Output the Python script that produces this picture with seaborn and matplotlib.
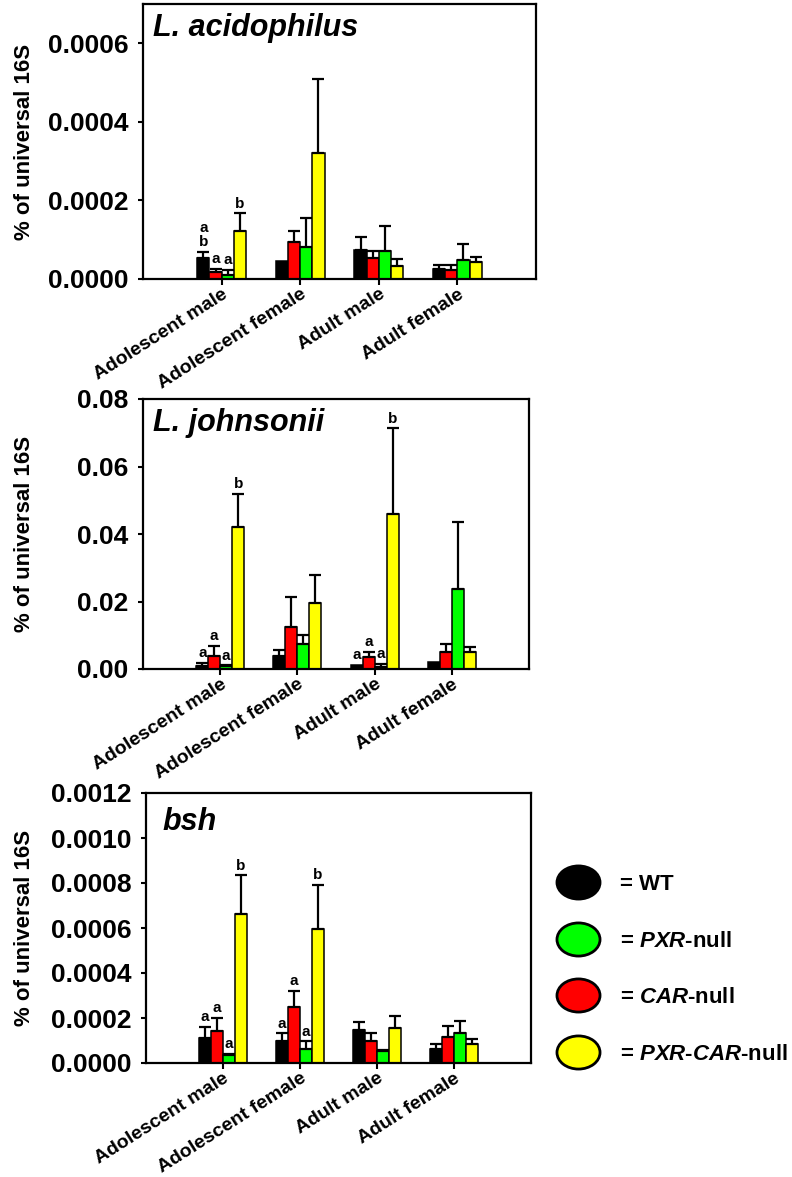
import numpy as np
import pandas as pd
import seaborn as sns
import matplotlib.pyplot as plt
from matplotlib.path import Path
from matplotlib.lines import Line2D
from matplotlib.container import BarContainer
from matplotlib.ticker import FormatStrFormatter, MultipleLocator

## Data, rows = genotype, columns = group
groups = ["Adolescent male", "Adolescent female", "Adult male", "Adult female"]
genotypes = ["WT", "CAR-null", "PXR-null", "PXR-CAR-null"]
bar_colors = ["#000000", "#ff0000", "#00ff00", "#ffff00"]

acid_mean = [[5.35e-5, 4.6e-5, 7.5e-5, 2.55e-5],
             [1.7e-5, 9.3e-5, 5.35e-5, 2.4e-5],
             [1.1e-5, 8.1e-5, 7.2e-5, 4.9e-5],
             [1.215e-4, 3.2e-4, 3.25e-5, 4.35e-5]]
acid_sem = [[1.55e-5, 0.0, 3.1e-5, 0.95e-5],
            [0.85e-5, 2.85e-5, 1.7e-5, 1.25e-5],
            [1.3e-5, 7.5e-5, 6.3e-5, 4.0e-5],
            [4.55e-5, 1.9e-4, 1.95e-5, 1.35e-5]]
acid_letters = [["a\nb", "", "", ""], ["a", "", "", ""], ["a", "", "", ""], ["b", "", "", ""]]

john_mean = [[0.0010, 0.0040, 0.0013, 0.0021],
             [0.0039, 0.0123, 0.0037, 0.0051],
             [0.0009, 0.0073, 0.0007, 0.0236],
             [0.0420, 0.0195, 0.0459, 0.0051]]
john_sem = [[0.0007, 0.0016, 0.0, 0.0],
            [0.0029, 0.0091, 0.0014, 0.0023],
            [0.0002, 0.0029, 0.0008, 0.0201],
            [0.0099, 0.0085, 0.0254, 0.0014]]
john_letters = [["a", "", "a", ""], ["a", "", "a", ""], ["a", "", "a", ""], ["b", "", "b", ""]]

bsh_mean = [[1.11e-4, 1.0e-4, 1.45e-4, 6.4e-5],
            [1.41e-4, 2.47e-4, 9.9e-5, 1.16e-4],
            [3.7e-5, 6.4e-5, 5.5e-5, 1.32e-4],
            [6.64e-4, 5.97e-4, 1.56e-4, 8.4e-5]]
bsh_sem = [[4.9e-5, 3.2e-5, 3.7e-5, 1.9e-5],
           [5.9e-5, 7.2e-5, 3.3e-5, 4.7e-5],
           [0.3e-5, 3.2e-5, 0.4e-5, 5.6e-5],
           [1.7e-4, 1.96e-4, 5.1e-5, 2.4e-5]]
bsh_letters = [["a", "a", "", ""], ["a", "a", "", ""], ["a", "a", "", ""], ["b", "b", "", ""]]

sns.set_style("ticks")
plt.rcParams['font.family'] = ['Liberation Sans', 'DejaVu Sans']
plt.rcParams['font.weight'] = 'bold'
plt.rcParams['axes.labelweight'] = 'bold'
plt.rcParams['mathtext.fontset'] = 'custom'
plt.rcParams['mathtext.it'] = 'Liberation Sans:italic:bold'
plt.rcParams['mathtext.rm'] = 'Liberation Sans:bold'
for key in ['text.color', 'axes.labelcolor', 'xtick.color', 'ytick.color', 'axes.edgecolor']:
    plt.rcParams[key] = 'black'

W, H = 792, 1177
fig = plt.figure(figsize=(W / 100, H / 100), dpi=100)


def make_df(mean, sem):
    rows = []
    for gi, g in enumerate(genotypes):
        for ci, c in enumerate(groups):
            rows.append({"group": c, "genotype": g, "value": mean[gi][ci], "sem": sem[gi][ci]})
    return pd.DataFrame(rows)


# (title, mean, sem, letters, ymax, ystep, fmt, box px [left, top, right, bottom], title pos)
panels = [
    ("L. acidophilus", acid_mean, acid_sem, acid_letters, 0.0007, 0.0002, "%.4f", [143, 4, 536, 279], (0.025, 0.967)),
    ("L. johnsonii", john_mean, john_sem, john_letters, 0.08, 0.02, "%.2f", [143, 399, 529, 669], (0.025, 0.968)),
    ("bsh", bsh_mean, bsh_sem, bsh_letters, 0.0012, 0.0002, "%.4f", [146, 793, 531, 1063], (0.042, 0.95)),
]

for title, mean, sem, letters, ymax, ystep, fmt, box, tpos in panels:
    l, t, r, b = box
    ax = fig.add_axes([l / W, 1 - b / H, (r - l) / W, (b - t) / H])
    df = make_df(mean, sem)
    sns.barplot(data=df, x="group", y="value", hue="genotype", order=groups, hue_order=genotypes,
                palette=bar_colors, saturation=1, width=0.62, gap=0, errorbar=None,
                edgecolor="black", linewidth=1.1, legend=False, ax=ax)

    bar_conts = [c for c in ax.containers if isinstance(c, BarContainer)]
    for gi, cont in enumerate(bar_conts):
        for bar in list(cont):
            xc = bar.get_x() + bar.get_width() / 2
            ci = int(round(xc))
            h = bar.get_height()
            e = sem[gi][ci]
            if e > 0:
                ax.errorbar(xc, h, yerr=[[0], [e]], fmt="none", ecolor="black",
                            elinewidth=1.6, capsize=4.5, capthick=1.6, zorder=3)
            if letters[gi][ci]:
                ax.annotate(letters[gi][ci], (xc, h + e), xytext=(0, 2), textcoords="offset points",
                            ha="center", va="bottom", fontsize=11, fontweight="bold", linespacing=1.0)

    ax.set_xlim(-1, 4)
    ax.set_ylim(0, ymax)
    ax.yaxis.set_major_locator(MultipleLocator(ystep))
    ax.yaxis.set_major_formatter(FormatStrFormatter(fmt))
    ax.set_xticks(range(len(groups)))
    ax.set_xticklabels(groups, fontsize=14, fontweight="bold")
    ax.set_xlabel("")
    ax.tick_params(axis="y", labelsize=19, length=3.5, width=1.5, pad=7)
    ax.tick_params(axis="x", length=4, width=1.5, pad=1)
    for s in ax.spines.values():
        s.set_linewidth(1.6)

    for lab in ax.get_xticklabels():
        lab.set_rotation(32.5)
        lab.set_ha("right")
        lab.set_va("top")
        lab.set_rotation_mode("anchor")

    ax.set_ylabel("% of universal 16S", fontsize=16, fontweight="bold")
    ax.yaxis.set_label_coords((35 - l) / (r - l), 0.5)
    ax.text(tpos[0], tpos[1], title, transform=ax.transAxes, ha="left", va="top",
            fontsize=22, fontweight="bold", fontstyle="italic")

# legend with elliptic markers
circ = Path.unit_circle()
ellipse = Path(circ.vertices * np.array([1.3, 1.0]), circ.codes)
leg_labels = ["= WT", r"= $\mathit{PXR}$-null", r"= $\mathit{CAR}$-null", r"= $\mathit{PXR}$-$\mathit{CAR}$-null"]
leg_colors = ["#000000", "#00ff00", "#ff0000", "#ffff00"]
handles = [Line2D([], [], ls="none", marker=ellipse, markersize=31, markerfacecolor=c,
                  markeredgecolor="black", markeredgewidth=2) for c in leg_colors]
fig.legend(handles, leg_labels, loc="upper left", bbox_to_anchor=(557 / W, 1 - 874 / H),
           frameon=False, prop=dict(family="Liberation Sans", weight="bold", size=16),
           handlelength=1.9, handletextpad=0.95, labelspacing=1.6, borderpad=0, borderaxespad=0)

fig.savefig("out.png", dpi=100)
